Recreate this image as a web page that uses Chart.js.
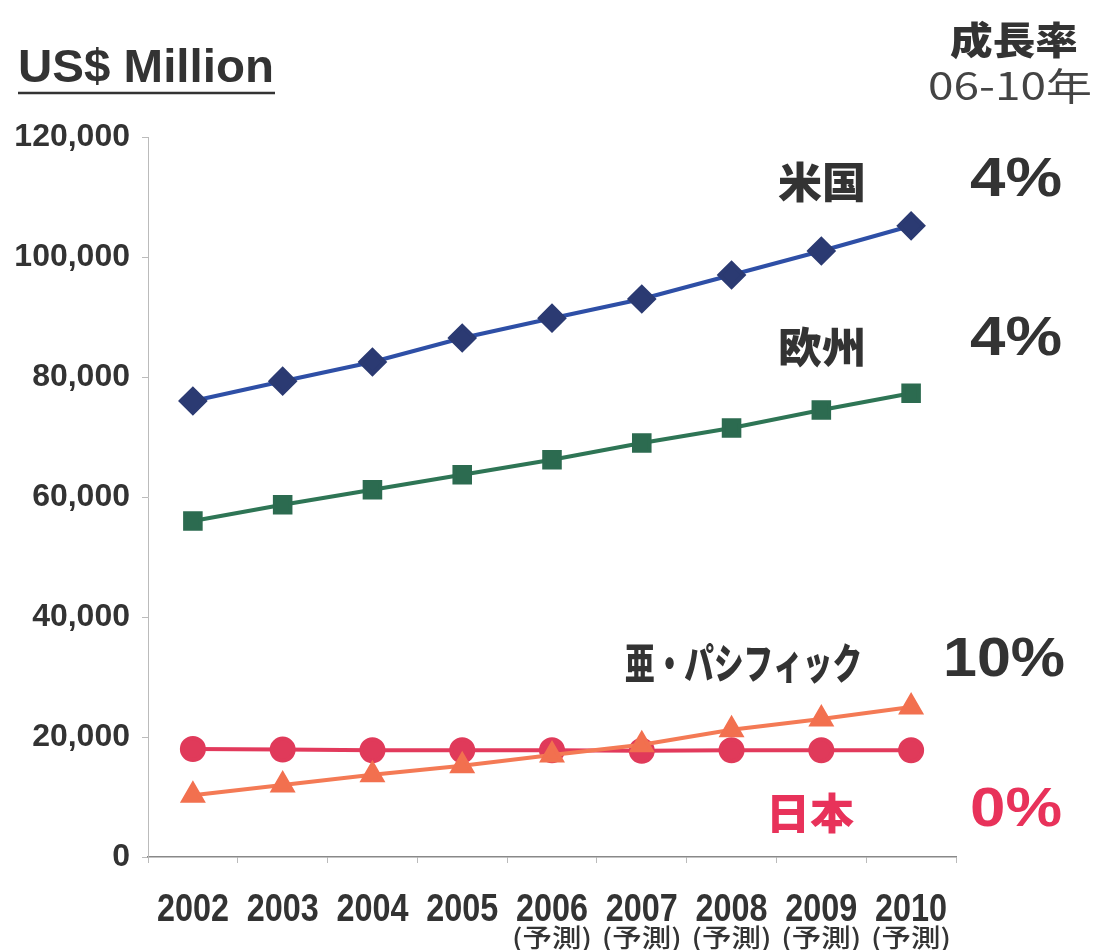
<!DOCTYPE html>
<html>
<head>
<meta charset="utf-8">
<script src="https://cdn.jsdelivr.net/npm/chart.js@4/dist/chart.umd.min.js"></script>
<style>
  html, body { margin: 0; padding: 0; background: #fff; }
  #wrap { width: 1103px; height: 950px; position: relative; }
</style>
</head>
<body>
<div id="wrap"><canvas id="chart"></canvas></div>
<script>
// data
const years = ["2002", "2003", "2004", "2005", "2006", "2007", "2008", "2009", "2010"];
const yearNotes = ["", "", "", "", "(予測)", "(予測)", "(予測)", "(予測)", "(予測)"];
const usa = [76000, 79300, 82500, 86500, 89800, 93000, 97000, 101000, 105200];
const europe = [56000, 58700, 61200, 63700, 66200, 69000, 71500, 74500, 77300];
const asiaPacific = [10300, 12000, 13700, 15200, 17000, 18700, 21200, 23000, 25000];
const japan = [18000, 17900, 17800, 17800, 17800, 17700, 17800, 17800, 17800];
const yTicks = [0, 20000, 40000, 60000, 80000, 100000, 120000];

const DARK = "#333333";
const JP_FONT = "'Noto Sans CJK JP', sans-serif";
const LAT_FONT = "'Liberation Sans', Arial, sans-serif";

// text drawn at a target width (squeezes or stretches horizontally)
function fitText(ctx, text, x, y, font, color, width, align) {
  ctx.save();
  ctx.font = font;
  ctx.fillStyle = color;
  ctx.textBaseline = "middle";
  const w = ctx.measureText(text).width;
  const s = width ? width / w : 1;
  let left = x;
  if (align === "center") left = x - (w * s) / 2;
  if (align === "right") left = x - w * s;
  ctx.translate(left, y);
  ctx.scale(s, 1);
  ctx.textAlign = "left";
  ctx.fillText(text, 0, 0);
  ctx.restore();
}

const annotations = {
  id: "annotations",
  afterDraw(chart) {
    const ctx = chart.ctx;
    const xs = chart.scales.x;

    // title + underline
    fitText(ctx, "US$ Million", 18, 69, "bold 46px " + LAT_FONT, DARK, 256);
    ctx.save();
    ctx.strokeStyle = DARK;
    ctx.lineWidth = 2.5;
    ctx.beginPath();
    ctx.moveTo(18, 93);
    ctx.lineTo(275, 93);
    ctx.stroke();
    ctx.restore();

    // growth rate header
    fitText(ctx, "成長率", 1014, 40, "900 38px " + JP_FONT, DARK, 128, "center");
    fitText(ctx, "06-10年", 1010, 86, "38px " + JP_FONT, "#444", 164, "center");

    // series names and rates
    fitText(ctx, "米国", 778, 182, "900 42px " + JP_FONT, DARK, 88);
    fitText(ctx, "4%", 970, 181, "bold 56px " + LAT_FONT, DARK, 92);
    fitText(ctx, "欧州", 778, 347, "900 42px " + JP_FONT, DARK, 88);
    fitText(ctx, "4%", 970, 340, "bold 56px " + LAT_FONT, DARK, 92);
    fitText(ctx, "亜・パシフィック", 625, 663, "900 42px " + JP_FONT, DARK, 237);
    fitText(ctx, "10%", 943, 661, "bold 56px " + LAT_FONT, DARK, 122);
    fitText(ctx, "日本", 766, 813, "900 42px " + JP_FONT, "#E8325A", 88);
    fitText(ctx, "0%", 970, 811, "bold 56px " + LAT_FONT, "#E8325A", 92);

    // year labels and forecast notes under the x axis
    years.forEach((yr, i) => {
      const px = xs.getPixelForValue(i);
      fitText(ctx, yr, px, 911, "bold 38px " + LAT_FONT, DARK, 72, "center");
      if (yearNotes[i]) {
        fitText(ctx, yearNotes[i], px, 937, "500 25px " + JP_FONT, DARK, 80, "center");
      }
    });
  }
};

const ctx = document.getElementById("chart");
new Chart(ctx, {
  type: "line",
  data: {
    labels: years,
    datasets: [
      {
        label: "米国",
        data: usa,
        borderColor: "#2E4FA6",
        pointBackgroundColor: "#2B3A72",
        pointBorderColor: "#2B3A72",
        pointStyle: "rectRot",
        pointRadius: 12,
        borderWidth: 4
      },
      {
        label: "欧州",
        data: europe,
        borderColor: "#2E7555",
        pointBackgroundColor: "#2C6B50",
        pointBorderColor: "#2C6B50",
        pointStyle: "rect",
        pointRadius: 11,
        borderWidth: 4
      },
      {
        label: "亜・パシフィック",
        data: asiaPacific,
        borderColor: "#F47A55",
        pointBackgroundColor: "#F2704F",
        pointBorderColor: "#F2704F",
        pointStyle: "triangle",
        pointRadius: 11,
        borderWidth: 4
      },
      {
        label: "日本",
        data: japan,
        borderColor: "#E23A5C",
        pointBackgroundColor: "#E03A5A",
        pointBorderColor: "#E03A5A",
        pointStyle: "circle",
        pointRadius: 11,
        borderWidth: 4
      }
    ]
  },
  options: {
    responsive: true,
    maintainAspectRatio: false,
    animation: false,
    layout: {
      padding: { left: 0, top: 137, right: 147, bottom: 0 }
    },
    plugins: {
      legend: { display: false },
      tooltip: { enabled: false }
    },
    scales: {
      x: {
        offset: true,
        grid: {
          offset: true,
          drawOnChartArea: false,
          color: "#bbbbbb",
          tickLength: 6
        },
        border: { color: "#888888", width: 1.5 },
        ticks: { display: false },
        afterFit(scale) { scale.height = 93; }
      },
      y: {
        min: 0,
        max: 120000,
        afterBuildTicks(scale) { scale.ticks = yTicks.map(v => ({ value: v })); },
        grid: {
          drawOnChartArea: false,
          color: "#bbbbbb",
          tickLength: 6
        },
        border: { color: "#bbbbbb", width: 1, dash: [2, 2] },
        ticks: {
          color: DARK,
          padding: 12,
          font: { family: LAT_FONT, weight: "bold", size: 32 },
          callback: v => v.toLocaleString("en-US")
        },
        afterFit(scale) { scale.width = 148; }
      }
    }
  },
  plugins: [annotations]
});
</script>
</body>
</html>
